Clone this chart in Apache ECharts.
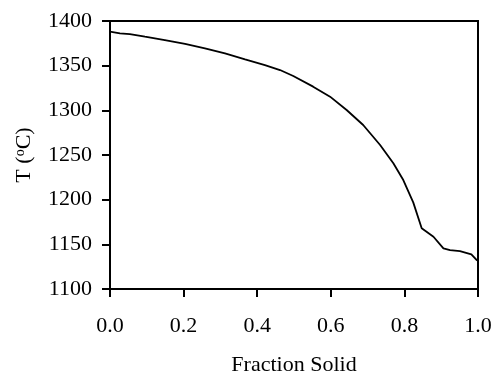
<!DOCTYPE html>
<html><head><meta charset="utf-8">
<script src="https://cdn.jsdelivr.net/npm/echarts@6/dist/echarts.min.js"></script>
<style>html,body{margin:0;padding:0;background:#fff}#c{width:494px;height:376px}</style>
</head><body><div id="c"></div>
<script>
var fractionSolid = [0.0, 0.027, 0.054, 0.095, 0.149, 0.204, 0.258, 0.3125, 0.367, 0.421, 0.462, 0.498, 0.552, 0.598, 0.643, 0.688, 0.734, 0.770, 0.797, 0.824, 0.847, 0.879, 0.906, 0.924, 0.951, 0.982, 0.996, 1.0];
var temperature = [1388, 1386.2, 1385.4, 1382.4, 1378.7, 1374.3, 1369.4, 1363.8, 1357.1, 1350.7, 1345.1, 1338.4, 1326.5, 1315.3, 1300.4, 1283.6, 1261.2, 1240.7, 1222, 1197, 1168, 1158.5, 1145.5, 1143.6, 1142.5, 1138.8, 1132.5, 1131.7];
var xTicks = {min: 0, max: 1, interval: 0.2};
var yTicks = {min: 1100, max: 1400, interval: 50};

var chart = echarts.init(document.getElementById('c'));
var font = 'Liberation Serif';
chart.setOption({
  animation: false,
  grid: {left: 110, right: 16, top: 21, bottom: 87, show: true, borderColor: '#000', borderWidth: 2, containLabel: false, outerBoundsMode: 'none'},
  xAxis: {
    type: 'value', min: xTicks.min, max: xTicks.max, interval: xTicks.interval,
    name: 'Fraction Solid', nameLocation: 'middle', nameGap: 65,
    nameTextStyle: {fontFamily: font, fontSize: 22, color: '#000'},
    axisLine: {show: true, lineStyle: {color: '#000', width: 2}},
    axisTick: {show: true, length: 8, lineStyle: {color: '#000', width: 2}},
    axisLabel: {fontFamily: font, fontSize: 22, color: '#000', margin: 26, formatter: function(v){return v.toFixed(1);}},
    splitLine: {show: false}
  },
  yAxis: {
    type: 'value', min: yTicks.min, max: yTicks.max, interval: yTicks.interval,
    name: 'T ({sup|o}C)', nameLocation: 'middle', nameGap: 75, nameRotate: 90,
    nameTextStyle: {fontFamily: font, fontSize: 22, color: '#000', rich: {sup: {fontFamily: font, fontSize: 14, color: '#000', verticalAlign: 'top', padding: [0,0,8,0]}}},
    axisLine: {show: true, lineStyle: {color: '#000', width: 2}},
    axisTick: {show: true, length: 8, lineStyle: {color: '#000', width: 2}},
    axisLabel: {fontFamily: font, fontSize: 22, color: '#000', margin: 18, formatter: function(v){return String(v);}},
    splitLine: {show: false}
  },
  series: [{
    type: 'line', showSymbol: false, smooth: false,
    lineStyle: {color: '#000', width: 1.8},
    data: fractionSolid.map(function(x, i){return [x, temperature[i]];})
  }]
});
</script></body></html>
